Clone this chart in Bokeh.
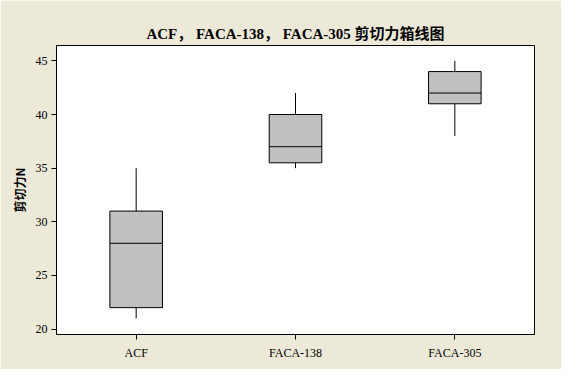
from bokeh.plotting import figure
from bokeh.models import FixedTicker, Title
from bokeh.embed import file_html
from bokeh.resources import INLINE

categories = ["ACF", "FACA-138", "FACA-305"]
mins = [21, 35, 38]
q1 = [22, 35.5, 41]
medians = [28, 37, 42]
q3 = [31, 40, 44]
maxs = [35, 42, 45]
y_ticks = [20, 25, 30, 35, 40, 45]

FONT = "'Liberation Serif', 'Noto Sans CJK SC', serif"
BG = "#ECE9D8"

xs = [i + 1 for i in range(len(categories))]
bw = 0.33

p = figure(width=561, height=369, output_backend="svg", toolbar_location=None,
           x_range=(0.5, 3.5), y_range=(19.5, 46.43),
           min_border_left=56, min_border_right=27, min_border_bottom=35, min_border_top=45)
p.title = Title(text="ACF\uff0c FACA-138\uff0c FACA-305 剪切力箱线图", align="center",
                text_font=FONT, text_font_size="15px", text_font_style="bold",
                text_color="black", offset=-16, standoff=8)
p.border_fill_color = BG
p.background_fill_color = "white"
p.outline_line_color = "black"
p.outline_line_width = 1
p.outline_line_alpha = 1
p.xgrid.visible = False
p.ygrid.visible = False

p.xaxis.ticker = FixedTicker(ticks=xs)
p.xaxis.major_label_overrides = {x: c for x, c in zip(xs, categories)}
p.yaxis.ticker = FixedTicker(ticks=y_ticks)
for ax in (p.xaxis[0], p.yaxis[0]):
    ax.axis_line_color = "black"
    ax.major_tick_line_color = "black"
    ax.major_tick_out = 5
    ax.major_tick_in = 0
    ax.minor_tick_line_color = None
    ax.major_label_text_font = FONT
    ax.major_label_text_font_size = "12px"
    ax.major_label_text_color = "black"
p.xaxis.major_label_standoff = 6
p.yaxis.major_label_standoff = 4
p.yaxis.axis_label = "剪切力N"
p.yaxis.axis_label_text_font = "'Noto Sans CJK SC'"
p.yaxis.axis_label_text_font_size = "12px"
p.yaxis.axis_label_text_font_style = "bold"
p.yaxis.axis_label_text_color = "black"
p.yaxis.axis_label_standoff = 5

# whiskers
p.segment(x0=xs, y0=q3, x1=xs, y1=maxs, line_color="black", line_width=1)
p.segment(x0=xs, y0=q1, x1=xs, y1=mins, line_color="black", line_width=1)
# boxes
p.vbar(x=xs, width=bw, top=q3, bottom=q1, fill_color="#C0C0C0", line_color="black", line_width=1)
# medians
p.segment(x0=[x - bw / 2 for x in xs], y0=medians, x1=[x + bw / 2 for x in xs], y1=medians,
          line_color="black", line_width=1)

open("out.html", "w").write(file_html(p, INLINE))
